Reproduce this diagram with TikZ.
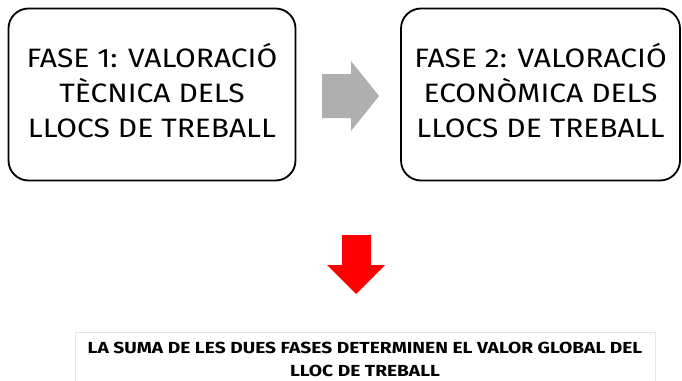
\documentclass[tikz,border=0pt]{standalone}
\usepackage{fontspec}
\setmainfont{Fira Sans}
\newfontfamily\phasefont{Fira Sans}[FakeStretch=1.127]
\newfontfamily\sumfont{Fira Sans}[FakeStretch=1.20]
\newcommand{\padbelow}{\rule[-8pt]{0pt}{8pt}}
\begin{document}
\begin{tikzpicture}[x=1pt,y=-1pt,
  phase/.style={draw=black, line width=1.8pt, rounded corners=20pt, minimum width=287pt, minimum height=172pt, inner sep=0pt, align=center, font=\phasefont\fontsize{26.6}{35.2}\selectfont},
  sumtext/.style={align=center, inner sep=0pt, font=\sumfont\bfseries\fontsize{16}{22.7}\selectfont}]
\useasboundingbox (0,0) rectangle (682,380);
\definecolor{arrowgray}{HTML}{AFAFAF}
\definecolor{boxgray}{HTML}{E6E6E6}
\node[phase] (f1) at (152,94.5) {FASE 1: VALORACIÓ\\TÈCNICA DELS\\LLOCS DE TREBALL\padbelow};
\node[phase, minimum width=279pt] (f2) at (540.5,94.5) {FASE 2: VALORACIÓ\\ECONÒMICA DELS\\LLOCS DE TREBALL\padbelow};
% gray block arrow
\fill[arrowgray] (322,74) -- (351,74) -- (351,61) -- (379,96) -- (351,131) -- (351,118) -- (322,118) -- cycle;
% red block arrow
\fill[red] (342,235) -- (371,235) -- (371,265) -- (385,265) -- (356,294) -- (327,265) -- (342,265) -- cycle;
% bottom box
\begin{scope}
\clip (0,0) rectangle (682,380);
\draw[boxgray, line width=1pt] (75,400) -- (75,332) -- (655,332) -- (655,400);
\end{scope}
\node[sumtext] (sum) at (365,359.4) {LA SUMA DE LES DUES FASES DETERMINEN EL VALOR GLOBAL DEL\\LLOC DE TREBALL};
\end{tikzpicture}
\end{document}
